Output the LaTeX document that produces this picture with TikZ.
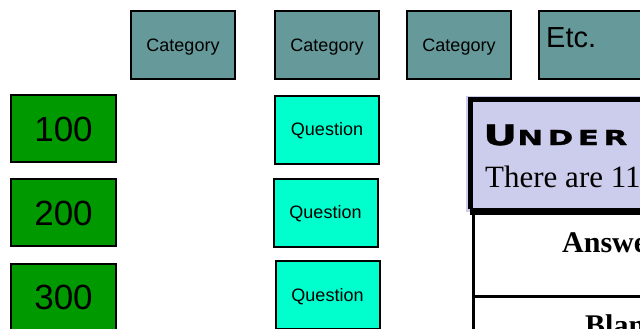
\documentclass[tikz,border=0pt]{standalone}
\usepackage{fontspec}
\setmainfont{Liberation Serif}
\newfontfamily\arialf{Liberation Sans}
\newfontfamily\copf[FakeStretch=1.5,LetterSpace=22,FakeBold=1.2]{DejaVu Sans Bold}
\definecolor{catcol}{RGB}{102,153,153}
\definecolor{grncol}{RGB}{0,153,0}
\definecolor{qcol}{RGB}{0,255,204}
\definecolor{purcol}{RGB}{204,204,236}
\tikzset{
  box/.style={draw=black, line width=2pt, inner sep=0pt, text depth=0pt},
  catbox/.style={box, fill=catcol, minimum width=104pt, minimum height=68pt, text height=12.9pt, font=\arialf\fontsize{18}{18}\selectfont},
  ptsbox/.style={box, fill=grncol, minimum width=105pt, minimum height=67pt, text height=25pt, font=\arialf\fontsize{35}{35}\selectfont},
  qbox/.style={box, fill=qcol, minimum width=104pt, minimum height=68pt, text height=12.9pt, font=\arialf\fontsize{18}{18}\selectfont},
  lbl/.style={inner sep=0pt, anchor=base west}
}
\begin{document}
\begin{tikzpicture}[x=1pt,y=-1pt]
\useasboundingbox (0,0) rectangle (640,329);
\clip (0,0) rectangle (640,329);
\fill[white] (0,0) rectangle (640,329);
% categories
\node[catbox] (c1) at (183,45) {Category};
\node[catbox] (c2) at (327,45) {Category};
\node[catbox] (c3) at (459,45) {Category};
\node[catbox] (c4) at (591,45) {};
\node[lbl, font=\arialf\fontsize{29}{29}\selectfont] (etc) at (546,48) {Etc.};
% points
\node[ptsbox] (p1) at (63.5,128.5) {100};
\node[ptsbox] (p2) at (63.5,212.5) {200};
\node[ptsbox] (p3) at (63.5,297) {300};
% questions
\node[qbox] (q1) at (327,129.5) {Question};
\node[qbox] (q2) at (325.5,212.5) {Question};
\node[qbox] (q3) at (327.5,295) {Question};
% purple header box
\fill[purcol] (466,96) rectangle (660,212);
\draw[line width=5pt] (470.5,209) -- (470.5,99.5) -- (660,99.5);
\node[lbl] (title) at (483,145) {\copf\fontsize{28}{28}\selectfont U\fontsize{20.6}{20.6}\selectfont NDER};
\node[lbl, font=\fontsize{31}{31}\selectfont] (sub) at (485,187) {There are 11};
% table
\fill[white] (475,215) rectangle (660,340);
\draw[line width=3pt] (473.5,211) -- (473.5,340);
\draw[line width=7pt] (470,211) -- (660,211);
\draw[line width=3pt] (473.5,296.5) -- (660,296.5);
\node[lbl, font=\bfseries\fontsize{30}{30}\selectfont] (ans) at (562,252) {Answer};
\node[lbl, font=\bfseries\fontsize{30}{30}\selectfont] (blk) at (585,335) {Blank};
\end{tikzpicture}
\end{document}
